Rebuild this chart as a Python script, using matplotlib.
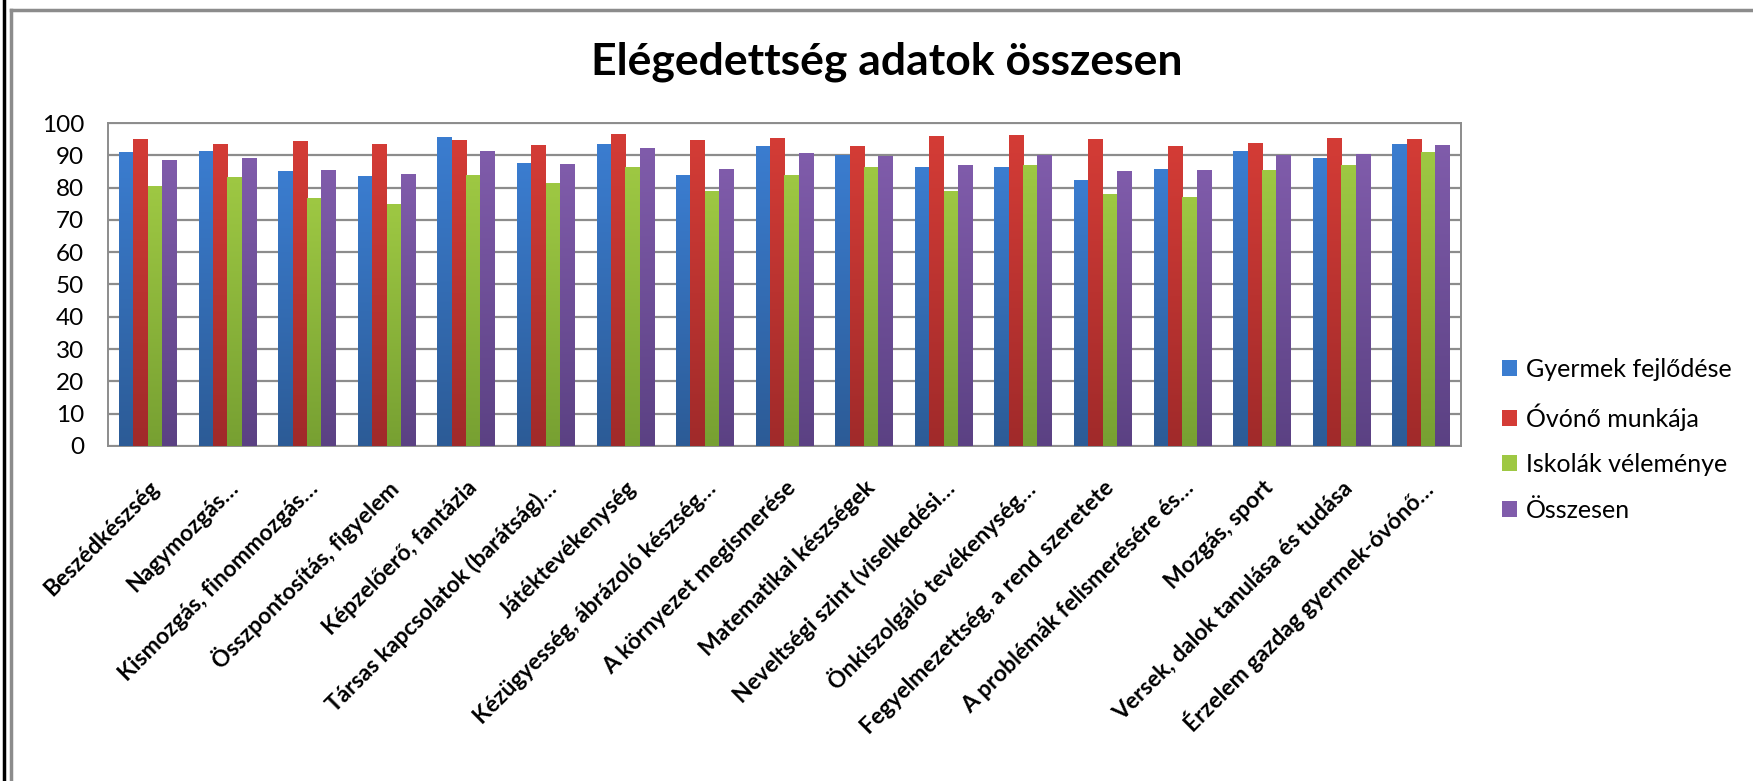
import numpy as np
import matplotlib
matplotlib.use("Agg")
import matplotlib.pyplot as plt
import matplotlib.transforms as mtransforms
from matplotlib.colors import LinearSegmentedColormap
from matplotlib.patches import Patch
from matplotlib.lines import Line2D

plt.rcParams['font.family'] = ['Lato', 'DejaVu Sans']

# Data
categories = [
    "Beszédkészség",
    "Nagymozgás…",
    "Kismozgás, finommozgás…",
    "Összpontosítás, figyelem",
    "Képzelőerő, fantázia",
    "Társas kapcsolatok (barátság)…",
    "Játéktevékenység",
    "Kézügyesség, ábrázoló készség…",
    "A környezet megismerése",
    "Matematikai készségek",
    "Neveltségi szint (viselkedési…",
    "Önkiszolgáló tevékenység…",
    "Fegyelmezettség, a rend szeretete",
    "A problémák felismerésére és…",
    "Mozgás, sport",
    "Versek, dalok tanulása és tudása",
    "Érzelem gazdag gyermek-óvónő…",
]
gyermek = [91.0, 91.2, 85.1, 83.6, 95.6, 87.7, 93.6, 83.8, 92.9, 90.2,
           86.5, 86.5, 82.3, 85.9, 91.2, 89.3, 93.6]
ovono = [95.2, 93.6, 94.4, 93.4, 94.8, 93.3, 96.6, 94.8, 95.4, 92.8,
         95.9, 96.3, 95.1, 93.0, 93.8, 95.3, 94.9]
iskolak = [80.4, 83.3, 76.8, 75.0, 83.8, 81.4, 86.5, 78.9, 83.9, 86.5,
           79.1, 87.1, 77.9, 77.1, 85.3, 86.9, 91.0]
osszesen = [88.7, 89.3, 85.5, 84.1, 91.4, 87.3, 92.3, 85.9, 90.6, 89.8,
            87.1, 90.0, 85.1, 85.3, 90.2, 90.5, 93.3]

series_names = ["Gyermek fejlődése", "Óvónő munkája", "Iskolák véleménye", "Összesen"]
series_values = [gyermek, ovono, iskolak, osszesen]
# (top colour, bottom colour) of the gradient fill
series_colors = [("#3b7dd0", "#2c5b96"),
                 ("#d43c36", "#a02a2a"),
                 ("#9ec843", "#77a032"),
                 ("#805cab", "#5b4183")]

fig = plt.figure(figsize=(17.53, 7.81), dpi=100)
ax = fig.add_axes([0.0616, 0.429, 0.7717, 0.4135])

n = len(categories)
x = np.arange(n)
bar_w = 0.18

for i, (vals, (ctop, cbot)) in enumerate(zip(series_values, series_colors)):
    offs = (i - 1.5) * bar_w
    bars = ax.bar(x + offs, vals, bar_w, color=cbot, zorder=3, linewidth=0)
    cmap = LinearSegmentedColormap.from_list("g%d" % i, [cbot, ctop])
    grad = np.linspace(0, 1, 256).reshape(-1, 1)
    for b in bars:
        x0, w, h = b.get_x(), b.get_width(), b.get_height()
        im = ax.imshow(grad, extent=[x0, x0 + w, 0, h], origin="lower",
                       aspect="auto", cmap=cmap, zorder=3.5)
        im.set_clip_path(b)

ax.set_xlim(-0.5, n - 0.5)
ax.set_ylim(0, 100)
ax.set_yticks(np.arange(0, 101, 10))
ax.yaxis.grid(True, color="#8c8c8c", linewidth=1.6, zorder=0)
ax.set_axisbelow(True)
for s in ax.spines.values():
    s.set_color("#8c8c8c")
    s.set_linewidth(1.4)
ax.tick_params(axis="y", length=0, pad=17, labelsize=17.5)
ax.tick_params(axis="x", length=0, pad=28)

ax.set_xticks(x)
ax.set_xticklabels(categories, rotation=45, ha="right", va="center",
                   rotation_mode="anchor", fontsize=16.5, fontweight="bold")
shift = mtransforms.ScaledTranslation(8 / 100, 0, fig.dpi_scale_trans)
for lab in ax.get_xticklabels():
    lab.set_transform(lab.get_transform() + shift)

fig.text(0.506, 0.921, "Elégedettség adatok összesen", ha="center",
         va="center", fontsize=32, fontweight="bold")

handles = [Patch(facecolor=c[0], edgecolor="none") for c in series_colors]
fig.legend(handles, series_names, loc="center left",
           bbox_to_anchor=(0.844, 0.437), frameon=False, fontsize=18,
           handlelength=0.6, handleheight=0.6, handletextpad=0.35,
           labelspacing=0.9)

# outer frame lines of the pasted chart
fig.add_artist(Line2D([0.002, 0.002], [0, 1], color="black", linewidth=2.5,
                      transform=fig.transFigure))
fig.add_artist(Line2D([0.006, 1.0], [0.987, 0.987], color="#8c8c8c",
                      linewidth=2.5, transform=fig.transFigure))
fig.add_artist(Line2D([0.006, 0.006], [0, 0.987], color="#8c8c8c",
                      linewidth=2.5, transform=fig.transFigure))

fig.savefig("out.png", dpi=100)
